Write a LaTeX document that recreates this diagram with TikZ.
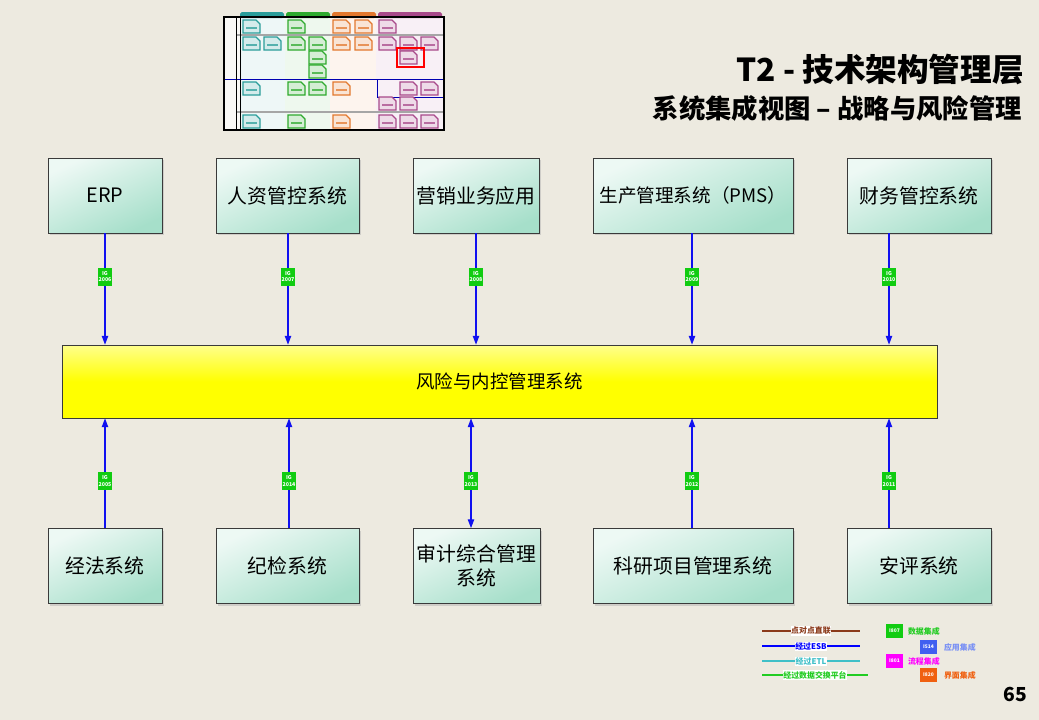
\documentclass[tikz,border=0pt]{standalone}
\usepackage{fontspec}
\setmainfont{Noto Sans CJK SC}
\usetikzlibrary{positioning, arrows.meta, calc, shadows}
\definecolor{pagebg}{HTML}{EDEAE0}
\definecolor{sysgreen}{HTML}{A6DFCA}
\definecolor{sysedge}{HTML}{3A3A3A}
\definecolor{riskyellow}{HTML}{FFFF00}
\definecolor{igfill}{HTML}{11CC11}
\definecolor{linkblue}{HTML}{1010F0}
\definecolor{thteal}{HTML}{2A9D9A}
\definecolor{thgreen}{HTML}{2EAA2E}
\definecolor{thorange}{HTML}{E2782E}
\definecolor{thpurple}{HTML}{A8498A}
\definecolor{lgbrown}{HTML}{8B3A1A}
\definecolor{lgcyan}{HTML}{40C0C8}
\definecolor{lggreen}{HTML}{22CC22}
\definecolor{lgblue}{HTML}{4060F0}
\definecolor{lgmagenta}{HTML}{FF00FF}
\definecolor{lgorange}{HTML}{F06010}
\tikzset{
  sysbox/.style={draw=sysedge, top color=white!80!sysgreen, bottom color=sysgreen, shading angle=25,
    drop shadow={shadow xshift=1.2pt, shadow yshift=-1.2pt, fill=black!30, opacity=0.5},
    minimum height=1.5cm, font=\fontsize{11.3}{14}\selectfont, align=center, inner sep=0pt},
  iglabel/.style={fill=igfill, text=white, font=\fontsize{3}{3.6}\selectfont\bfseries,
    align=center, inner sep=0.6pt, minimum width=0.24cm, minimum height=0.36cm},
  iglink/.style={draw=linkblue, line width=0.7pt, -{Triangle[length=5pt,width=3.6pt]}},
  legendtext/.style={fill=white, inner sep=0.4pt, font=\fontsize{4.5}{5}\selectfont\bfseries},
  legendkey/.style={text=white, inner sep=0pt, minimum width=0.34cm, minimum height=0.28cm,
    font=\fontsize{2.8}{3}\selectfont\bfseries},
}
\begin{document}
\begin{tikzpicture}[x=0.02cm, y=-0.02cm]
  \useasboundingbox (0,0) rectangle (1039,720);
  \fill[pagebg] (0,0) rectangle (1039,720);

  % navigation thumbnail
  \fill[white!70!pagebg] (224,17) rectangle (444,130);
  \fill[thteal!8] (240,18) rectangle (285,130);
  \fill[thgreen!8] (285,18) rectangle (330,130);
  \fill[thorange!8] (330,18) rectangle (376,130);
  \fill[thpurple!8] (376,18) rectangle (443,130);
  \fill[thteal, rounded corners=1pt] (240,12) rectangle (284,18);
  \fill[thgreen, rounded corners=1pt] (286,12) rectangle (330,18);
  \fill[thorange, rounded corners=1pt] (332,12) rectangle (376,18);
  \fill[thpurple, rounded corners=1pt] (378,12) rectangle (442,18);
  \draw[gray!70, line width=0.6pt] (236,35) -- (444,35);
  \draw[gray!70, line width=0.6pt] (236,112) -- (444,112);
  \draw[blue!70!black, line width=0.5pt] (224,79) -- (377,79) -- (377,97) -- (444,97);
  \draw[blue!70!black, line width=0.5pt] (377,79) -- (444,79);
  \draw[black, line width=0.35pt] (236,17) -- (236,130) (240,17) -- (240,130);
  \draw[black, line width=0.6pt] (224,17) rectangle (444,130);
  \foreach \x/\y/\c in {243/20/thteal, 288/20/thgreen, 333/20/thorange, 355/20/thorange, 379/20/thpurple,
      243/37/thteal, 264/37/thteal, 288/37/thgreen, 309/37/thgreen, 333/37/thorange, 355/37/thorange,
      379/37/thpurple, 400/37/thpurple, 421/37/thpurple, 309/51/thgreen, 400/51/thpurple, 309/65/thgreen,
      243/82/thteal, 288/82/thgreen, 309/82/thgreen, 333/82/thorange, 400/82/thpurple, 421/82/thpurple,
      379/97/thpurple, 400/97/thpurple,
      243/115/thteal, 288/115/thgreen, 333/115/thorange, 379/115/thpurple, 400/115/thpurple, 421/115/thpurple} {
    \draw[\c, fill=\c!20, line width=0.7pt] (\x,\y) -- ++(13,0) -- ++(4,4) -- ++(0,9) -- ++(-17,0) -- cycle;
    \draw[\c!80, line width=0.6pt] (\x+3,\y+8) -- ++(11,0);
  }
  \draw[red, line width=1.3pt] (397,48) rectangle (424,67);

  % title
  \node[anchor=east, font=\fontsize{18}{20}\selectfont\bfseries] (title) at (1030,70) {T2 - 技术架构管理层};
  \node[anchor=east, font=\fontsize{15}{17}\selectfont\bfseries] (subtitle) at (1028,108) {系统集成视图 – 战略与风险管理};

  % systems
  \node[sysbox, minimum width=2.28cm] (erp) at (105,195.5) {ERP};
  \node[sysbox, minimum width=2.86cm] (hr) at (287.5,195.5) {人资管控系统};
  \node[sysbox, minimum width=2.52cm] (sales) at (476,195.5) {营销业务应用};
  \node[sysbox, minimum width=4cm, font=\fontsize{10.6}{13}\selectfont] (pms) at (693,195.5) {生产管理系统（PMS）};
  \node[sysbox, minimum width=2.88cm] (fin) at (919,195.5) {财务管控系统};

  \node[draw=sysedge, top color=riskyellow!45!white, bottom color=riskyellow, middle color=riskyellow,
        minimum width=17.5cm, minimum height=1.46cm, font=\fontsize{10.5}{13}\selectfont] (risk) at (499.5,381.5) {风险与内控管理系统};

  \node[sysbox, minimum width=2.28cm] (law) at (105,566) {经法系统};
  \node[sysbox, minimum width=2.86cm] (disc) at (287.5,566) {纪检系统};
  \node[sysbox, minimum width=2.54cm] (audit) at (476.5,566) {审计综合管理\\系统};
  \node[sysbox, minimum width=4cm] (rnd) at (693,566) {科研项目管理系统};
  \node[sysbox, minimum width=2.88cm] (safe) at (919,566) {安评系统};

  % integration links
  \draw[iglink] (erp.south) -- (erp.south |- risk.north) node[iglabel, pos=0.39] {IG\\2006};
  \draw[iglink] ([xshift=0.01cm]hr.south) -- ([xshift=0.01cm]hr.south |- risk.north) node[iglabel, pos=0.39] {IG\\2007};
  \draw[iglink] (sales.south) -- (sales.south |- risk.north) node[iglabel, pos=0.39] {IG\\2008};
  \draw[iglink] ([xshift=-0.02cm]pms.south) -- ([xshift=-0.02cm]pms.south |- risk.north) node[iglabel, pos=0.39] {IG\\2009};
  \draw[iglink] ([xshift=-0.6cm]fin.south) -- ([xshift=-0.6cm]fin.south |- risk.north) node[iglabel, pos=0.39] {IG\\2010};

  \draw[iglink] (law.north) -- (law.north |- risk.south) node[iglabel, pos=0.43] {IG\\2005};
  \draw[iglink] ([xshift=0.03cm]disc.north) -- ([xshift=0.03cm]disc.north |- risk.south) node[iglabel, pos=0.43] {IG\\2014};
  \draw[iglink, {Triangle[length=5pt,width=3.6pt]}-{Triangle[length=5pt,width=3.6pt]}]
    ([xshift=-0.11cm]audit.north) -- ([xshift=-0.11cm]audit.north |- risk.south) node[iglabel, pos=0.43] {IG\\2013};
  \draw[iglink] ([xshift=-0.02cm]rnd.north) -- ([xshift=-0.02cm]rnd.north |- risk.south) node[iglabel, pos=0.43] {IG\\2012};
  \draw[iglink] ([xshift=-0.6cm]safe.north) -- ([xshift=-0.6cm]safe.north |- risk.south) node[iglabel, pos=0.43] {IG\\2011};

  % legend
  \draw[lgbrown, line width=0.6pt] (762,631) -- (860,631);
  \node[legendtext, text=lgbrown] (lgdirect) at (811,631) {点对点直联};
  \draw[blue, line width=0.6pt] (762,646) -- (860,646);
  \node[legendtext, text=blue] (lgesb) at (811,646) {经过ESB};
  \draw[lgcyan, line width=0.6pt] (762,661) -- (860,661);
  \node[legendtext, text=lgcyan] (lgetl) at (811,661) {经过ETL};
  \draw[lggreen, line width=0.6pt] (762,675) -- (868,675);
  \node[legendtext, text=lggreen] (lgexch) at (815,675) {经过数据交换平台};

  \node[legendkey, fill=igfill] (key807) at (894.5,631) {I807};
  \node[legendtext, fill=none, text=lggreen, anchor=west] (lgdata) at (907,631) {数据集成};
  \node[legendkey, fill=lgblue] (key514) at (928.5,647) {I514};
  \node[legendtext, fill=none, text=lgblue!70, anchor=west] (lgapp) at (943,647) {应用集成};
  \node[legendkey, fill=lgmagenta] (key801) at (894.5,661) {I801};
  \node[legendtext, fill=none, text=lgmagenta, anchor=west] (lgflow) at (907,661) {流程集成};
  \node[legendkey, fill=lgorange] (key820) at (928.5,675) {I820};
  \node[legendtext, fill=none, text=lgorange, anchor=west] (lgui) at (943,675) {界面集成};

  % page number
  \node[font=\fontsize{11}{13}\selectfont\bfseries] (pageno) at (1015,694) {65};
\end{tikzpicture}
\end{document}
